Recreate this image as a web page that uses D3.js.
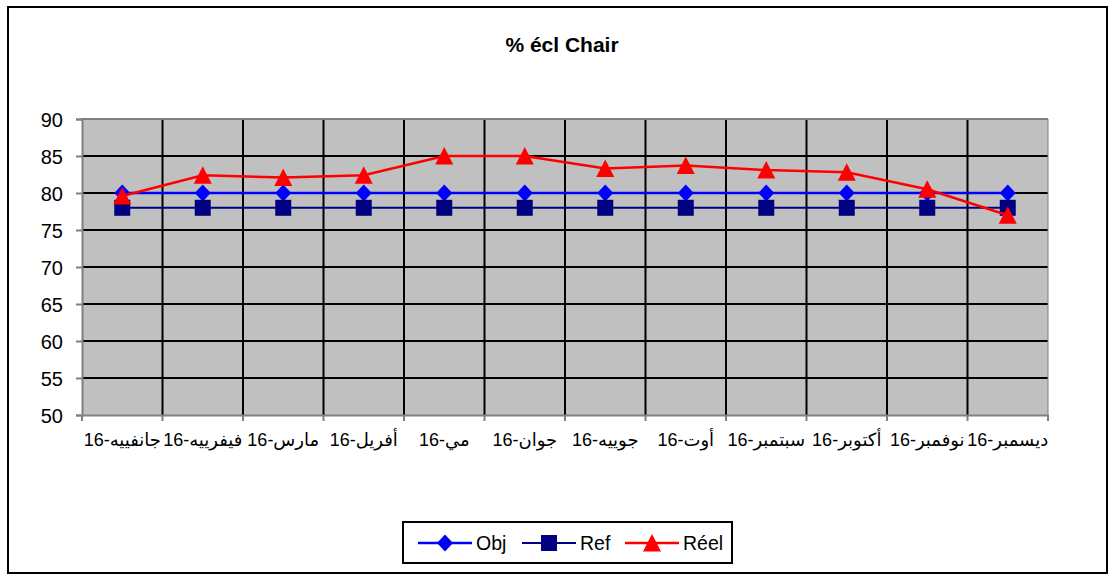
<!DOCTYPE html>
<html><head><meta charset="utf-8">
<script src="https://cdn.jsdelivr.net/npm/d3@7"></script>
<style>
html,body{margin:0;padding:0;background:#fff;}
text{font-family:"Liberation Sans",Arial,"DejaVu Sans",sans-serif;}
</style></head>
<body><svg id="c" width="1116" height="580"></svg>
<script>
const title = "% écl Chair";
const months = ["جانفييه-16","فيفرييه-16","مارس-16","أفريل-16","مي-16","جوان-16","جوييه-16","أوت-16","سبتمبر-16","أكتوبر-16","نوفمبر-16","ديسمبر-16"];
const objValues = [80,80,80,80,80,80,80,80,80,80,80,80];
const refValues = [78,78,78,78,78,78,78,78,78,78,78,78];
const reelValues = [79.6,82.4,82.1,82.4,85,85,83.3,83.7,83.1,82.8,80.5,77.0];
const yTicks = [50,55,60,65,70,75,80,85,90];
const seriesNames = ["Obj","Ref","Réel"];

const svg = d3.select("#c");
svg.append("rect").attr("x",8).attr("y",7).attr("width",1099).attr("height",566)
  .attr("fill","#fff").attr("stroke","#000").attr("stroke-width",2);

const L=82,R=1048,T=119,B=415;
const x = d3.scaleBand().domain(months).range([L,R]);
const y = d3.scaleLinear().domain([50,90]).range([B,T]);

svg.append("rect").attr("x",L).attr("y",T).attr("width",R-L).attr("height",B-T).attr("fill","#C0C0C0");

svg.append("g").selectAll("line").data(yTicks.filter(d=>d>50&&d<90)).join("line")
  .attr("x1",L).attr("x2",R).attr("y1",d=>y(d)).attr("y2",d=>y(d))
  .attr("stroke","#000").attr("stroke-width",2);
svg.append("g").selectAll("line").data(months.slice(1)).join("line")
  .attr("x1",d=>x(d)).attr("x2",d=>x(d)).attr("y1",T).attr("y2",B)
  .attr("stroke","#000").attr("stroke-width",2);
svg.append("line").attr("x1",L).attr("x2",R).attr("y1",T).attr("y2",T).attr("stroke","#808080").attr("stroke-width",2);
svg.append("line").attr("x1",R).attr("x2",R).attr("y1",T).attr("y2",B).attr("stroke","#808080").attr("stroke-width",1);

const yAxis = d3.axisLeft(y).tickValues(yTicks).tickSize(6).tickPadding(13);
const gy = svg.append("g").attr("transform",`translate(${L},0)`).call(yAxis);
gy.select(".domain").attr("stroke","#808080").attr("stroke-width",2);
gy.selectAll(".tick line").attr("stroke","#808080").attr("stroke-width",2);
gy.selectAll("text").attr("font-size",20).attr("fill","#000").attr("dy","0.35em")
  .style("font-family",'"Liberation Sans",Arial,sans-serif');

const xAxis = d3.axisBottom(x).tickSize(0).tickPadding(0);
const gx = svg.append("g").attr("transform",`translate(0,${B})`).call(xAxis);
gx.select(".domain").attr("stroke","#808080").attr("stroke-width",2);
gx.selectAll(".tick text").attr("font-size",18).attr("fill","#000").attr("dy",0).attr("y",31)
  .style("font-family",'"Liberation Sans",Arial,"DejaVu Sans",sans-serif');
svg.append("g").selectAll("line").data(months.map((m,i)=>i).concat([12])).join("line")
  .attr("x1",i=>L+i*x.bandwidth()).attr("x2",i=>L+i*x.bandwidth())
  .attr("y1",B).attr("y2",B+6).attr("stroke","#808080").attr("stroke-width",2);

svg.append("text").attr("x",562).attr("y",52).attr("text-anchor","middle")
  .attr("font-size",21).attr("font-weight","bold").text(title);

const cx = m => x(m)+x.bandwidth()/2;
const line = vals => d3.line().x((d,i)=>cx(months[i])).y(d=>y(d))(vals);

function drawDiamond(g,px,py){ g.append("path").attr("d",`M${px},${py-8.5}L${px+8},${py}L${px},${py+8.5}L${px-8},${py}Z`).attr("fill","#0000FF"); }
function drawSquare(g,px,py){ g.append("rect").attr("x",px-8).attr("y",py-8).attr("width",16).attr("height",16).attr("fill","#000080"); }
function drawTri(g,px,py){ g.append("path").attr("d",`M${px},${py-9}L${px+9},${py+8.5}L${px-9},${py+8.5}Z`).attr("fill","#FF0000"); }

const series = [
  {name:seriesNames[0], vals:objValues, color:"#0000FF", w:2.5, mk:drawDiamond},
  {name:seriesNames[1], vals:refValues, color:"#000080", w:2, mk:drawSquare},
  {name:seriesNames[2], vals:reelValues, color:"#FF0000", w:2.5, mk:drawTri}
];
series.forEach(s=>{
  const g = svg.append("g");
  g.append("path").attr("d",line(s.vals)).attr("fill","none").attr("stroke",s.color).attr("stroke-width",s.w);
  s.vals.forEach((v,i)=>s.mk(g,cx(months[i]),y(v)));
});

svg.append("rect").attr("x",403).attr("y",522).attr("width",329).attr("height",41)
  .attr("fill","#fff").attr("stroke","#000").attr("stroke-width",2);
const lx = [418,522,625];
series.forEach((s,i)=>{
  const g = svg.append("g");
  const ly = 543;
  g.append("line").attr("x1",lx[i]).attr("x2",lx[i]+54).attr("y1",ly).attr("y2",ly).attr("stroke",s.color).attr("stroke-width",s.w);
  s.mk(g,lx[i]+27,ly);
  g.append("text").attr("x",lx[i]+58).attr("y",ly+7).attr("font-size",19.5).text(s.name);
});
</script></body></html>
